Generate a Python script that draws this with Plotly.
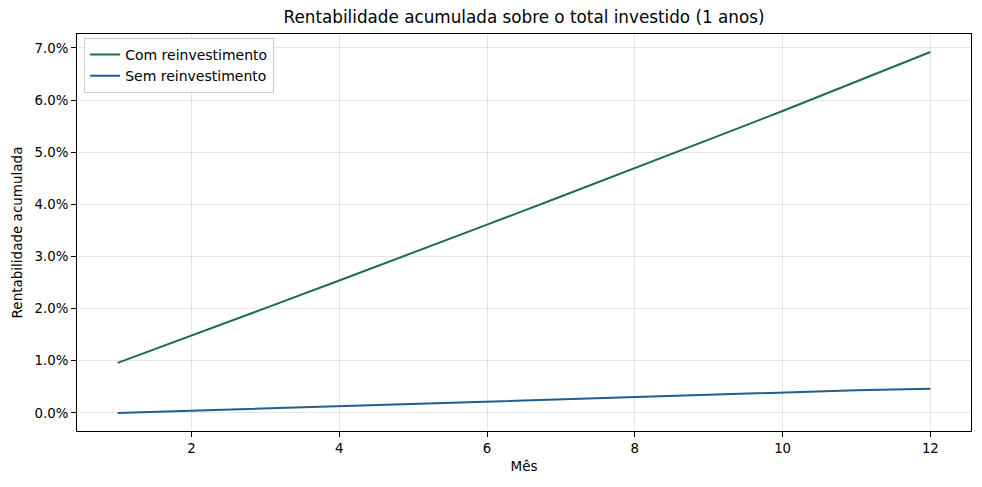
import plotly.graph_objects as go

meses = list(range(1, 13))
com_reinv = [0.96, 1.48, 2.01, 2.54, 3.07, 3.61, 4.15, 4.69, 5.24, 5.79, 6.35, 6.92]
sem_reinv = [0.0, 0.045, 0.09, 0.135, 0.175, 0.22, 0.265, 0.31, 0.35, 0.395, 0.435, 0.465]
x_ticks = [2, 4, 6, 8, 10, 12]
y_ticks = [0, 1, 2, 3, 4, 5, 6, 7]

verde = "#1e6e46"
azul = "#1f5e8e"
fonte = "DejaVu Sans"

fig = go.Figure()
fig.add_trace(go.Scatter(x=meses, y=com_reinv, mode="lines",
                         name="Com reinvestimento",
                         line=dict(color=verde, width=2)))
fig.add_trace(go.Scatter(x=meses, y=sem_reinv, mode="lines",
                         name="Sem reinvestimento",
                         line=dict(color=azul, width=2)))

# margens de 5% como no matplotlib
todos = com_reinv + sem_reinv
lo, hi = min(todos), max(todos)
pad_y = (hi - lo) * 0.05
pad_x = (max(meses) - min(meses)) * 0.05

eixo = dict(showline=True, linecolor="black", linewidth=1, mirror=True,
            ticks="outside", ticklen=5, tickcolor="black", automargin=False,
            showgrid=True, gridcolor="rgba(0,0,0,0.1)", gridwidth=1,
            zeroline=False, tickfont=dict(size=13.3, color="black"))

# a página tem 8px de margem no body, compensado aqui
fig.update_layout(
    width=982, height=487,
    margin=dict(l=69, r=19, t=26, b=64, autoexpand=False),
    paper_bgcolor="white", plot_bgcolor="white",
    font=dict(family=fonte, color="black"),
    title=dict(text="Rentabilidade acumulada sobre o total investido (1 anos)",
               x=0.5255, xanchor="center", y=0.9815, yanchor="middle",
               yref="container", automargin=False,
               font=dict(size=16.8, color="black")),
    xaxis=dict(eixo, range=[min(meses) - pad_x, max(meses) + pad_x],
               tickvals=x_ticks,
               title=dict(text="Mês", font=dict(size=13.5), standoff=6)),
    yaxis=dict(eixo, range=[lo - pad_y, hi + pad_y],
               tickvals=y_ticks, ticktext=[f"{v:.1f}%" for v in y_ticks],
               title=dict(text="Rentabilidade acumulada", font=dict(size=13.5),
                          standoff=8)),
    legend=dict(x=0.008, y=0.99, xanchor="left", yanchor="top",
                bgcolor="rgba(255,255,255,0.8)", bordercolor="#cccccc",
                borderwidth=1, font=dict(size=14), tracegroupgap=0),
    showlegend=True,
)

fig.write_html("out.html")
